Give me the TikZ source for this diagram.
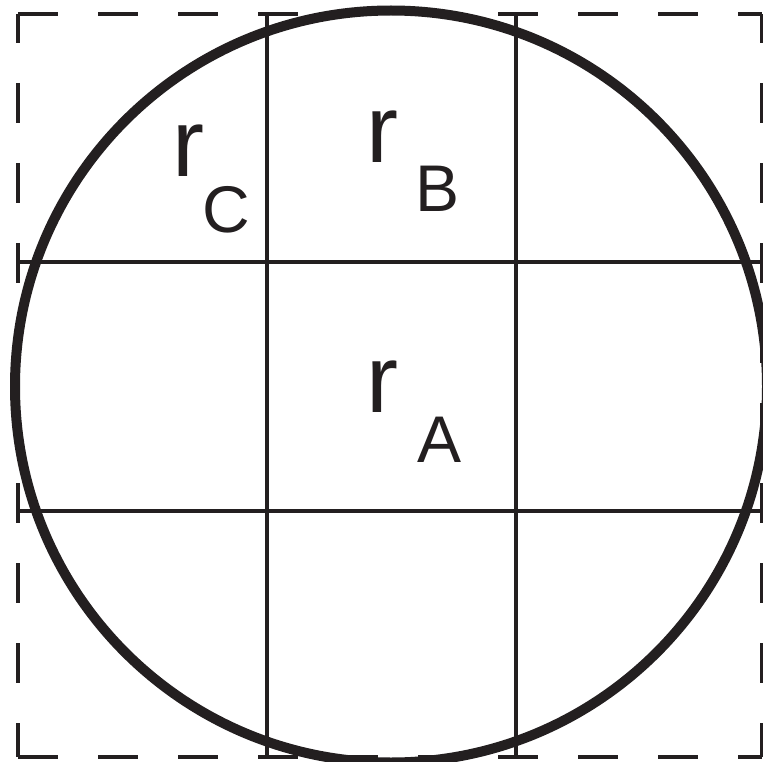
\documentclass[tikz,border=0pt]{standalone}
\usepackage{fontspec}
\setmainfont{Liberation Sans}
\usepackage{tikz}
\definecolor{inkBlack}{HTML}{231F20}

\begin{document}
\begin{tikzpicture}[
  x=1pt,y=-1pt,
  frame/.style={draw=inkBlack,line width=4pt,dash pattern=on 40pt off 40pt},
  gridline/.style={draw=inkBlack,line width=4pt},
  rim/.style={draw=inkBlack,line width=10pt},
  sym/.style={inner sep=0pt,anchor=base west,text=inkBlack,font=\fontsize{96}{96}\selectfont},
  idx/.style={inner sep=0pt,anchor=base west,text=inkBlack,font=\fontsize{66}{66}\selectfont}
]
\useasboundingbox (0,0) rectangle (763,762);
% corners of the dashed frame
\coordinate (nw) at (18,14);
\coordinate (ne) at (762,14);
\coordinate (sw) at (18,757);
\coordinate (se) at (762,757);
% dashed frame
\draw[frame] (nw) -- (ne);
\draw[frame] (sw) -- (se);
\draw[frame,dash phase=11pt] (nw) -- (sw);
\draw[frame,dash phase=11pt] (ne) -- (se);
% grid
\foreach \gx in {267,516}
  \draw[gridline] (\gx,14) -- (\gx,757);
\foreach \gy in {262,511}
  \draw[gridline] (18,\gy) -- (762,\gy);
% circle
\draw[rim] (391,386.5) circle[radius=376];
% labels
\node[sym] (rC) at (172,177) {r};
\node[idx] (subC) at (202,233) {C};
\node[sym] (rB) at (366,163) {r};
\node[idx] (subB) at (415,212) {B};
\node[sym] (rA) at (366,412) {r};
\node[idx] (subA) at (417,462) {A};
\end{tikzpicture}
\end{document}
